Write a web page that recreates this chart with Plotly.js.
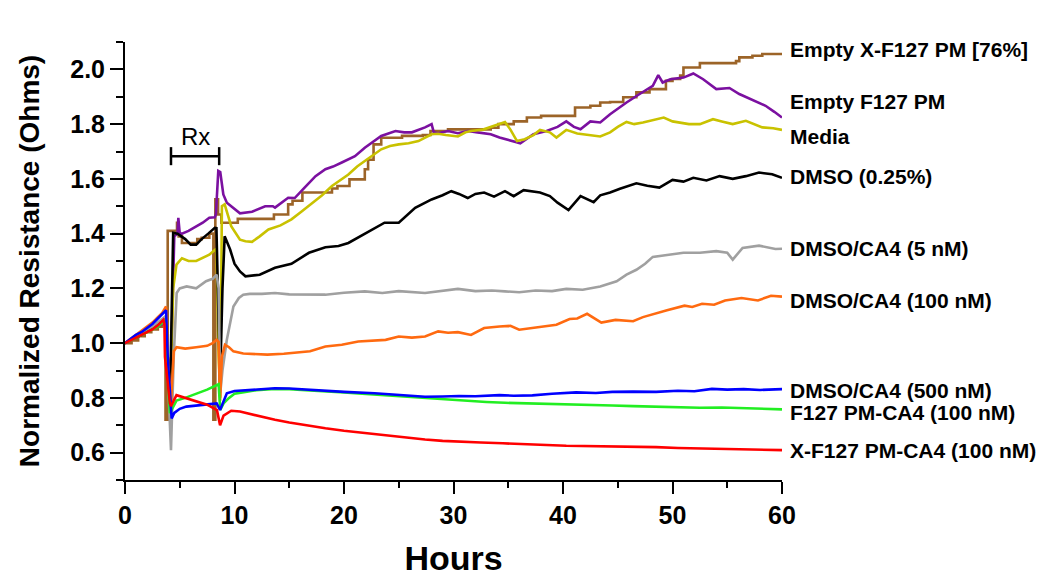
<!DOCTYPE html>
<html><head><meta charset="utf-8">
<script src="https://cdn.plot.ly/plotly-3.0.1.min.js"></script>
<style>html,body{margin:0;padding:0;background:#fff}</style>
</head><body><div id="chart" style="width:1050px;height:588px"></div>
<script>
// ---- Data (hours, normalized resistance) ----
const brownX = [0,0.6,1.2,1.8,2.4,3.0,3.4,3.7,3.9,4.75,4.9,5.2,6.6,7.0,7.7,8.07,8.25,8.5,8.8,10.3,13.6,14.9,15.3,16.2,18.9,19.4,20.5,21.9,22.2,22.7,23.4,25.3,27.2,27.9,29.5,33.4,34.1,35.5,36.7,38.0,41.1,42.5,43.4,44.3,45.5,46.7,47.9,49.4,50.0,50.7,51.0,52.5,55.8,56.1,57.3,58.2,60];
const brownY = [1.0,1.01,1.025,1.04,1.05,1.06,1.07,0.72,1.41,1.44,1.39,1.366,1.38,1.385,1.40,0.72,1.525,1.47,1.44,1.454,1.47,1.507,1.52,1.55,1.565,1.574,1.598,1.635,1.67,1.726,1.75,1.757,1.76,1.775,1.781,1.787,1.80,1.81,1.824,1.83,1.861,1.867,1.879,1.881,1.898,1.916,1.928,1.958,1.965,1.977,2.007,2.023,2.03,2.044,2.05,2.056,2.058];

const purpleX = [0,0.5,1,1.5,2,2.5,3,3.4,3.7,3.9,4.1,4.5,4.8,4.87,5.0,5.2,5.8,6.5,7.1,7.7,8.2,8.3,8.52,8.7,8.98,9.3,9.9,10.5,11.6,12.3,12.8,13.5,13.7,14.9,15.5,16.4,17.4,18.3,19.0,19.8,21.0,21.9,22.5,23.4,24.7,25.5,26.2,27.4,28.0,28.2,28.6,29.5,30.4,31.3,32.2,33.4,34.2,34.8,36.1,37.3,38.5,39.5,40.3,41.0,41.6,42.5,43.4,44.3,45.8,47.0,48.2,48.7,49.1,49.8,51.0,51.9,52.8,54.0,55.2,56.1,57.3,58.5,59.3,60];
const purpleY = [1.0,1.01,1.02,1.03,1.04,1.05,1.06,1.07,1.08,0.95,0.76,1.39,1.40,1.458,1.40,1.40,1.41,1.427,1.44,1.458,1.46,1.47,1.629,1.625,1.543,1.513,1.494,1.474,1.48,1.49,1.50,1.50,1.495,1.531,1.53,1.568,1.61,1.635,1.645,1.66,1.683,1.714,1.73,1.757,1.775,1.77,1.77,1.788,1.80,1.77,1.767,1.775,1.767,1.775,1.77,1.763,1.751,1.745,1.73,1.763,1.775,1.79,1.81,1.79,1.781,1.81,1.806,1.836,1.879,1.91,1.94,1.979,1.952,1.964,1.97,1.985,1.964,1.928,1.932,1.91,1.89,1.867,1.845,1.824];

const mediaX = [0,0.5,1,1.5,2,2.5,3,3.4,3.7,3.9,4.1,4.4,4.7,5.2,5.8,6.5,7.1,7.7,8.2,8.35,8.55,8.7,8.85,9.1,9.7,10.5,11.0,11.6,12.3,13.1,14.2,15.2,16.1,17.0,18.0,18.9,19.6,20.4,21.2,21.9,22.7,23.4,24.2,25.0,25.9,26.8,28.0,28.6,29.3,30.4,31.1,31.6,32.7,33.4,34.1,34.7,35.2,35.8,36.5,37.3,37.9,38.8,39.4,40.3,41.3,42.5,43.4,44.3,45.0,45.8,46.5,47.3,48.2,49.2,50.0,50.7,51.5,52.5,53.1,53.7,54.5,55.5,56.7,57.5,58.2,59.2,60];
const mediaY = [1.0,1.01,1.02,1.03,1.04,1.05,1.065,1.075,1.08,0.95,0.76,1.20,1.287,1.31,1.30,1.30,1.31,1.323,1.34,1.345,0.95,0.80,1.50,1.507,1.427,1.378,1.372,1.37,1.39,1.415,1.43,1.452,1.48,1.507,1.54,1.574,1.595,1.616,1.645,1.665,1.69,1.708,1.72,1.726,1.73,1.738,1.763,1.765,1.76,1.755,1.77,1.775,1.78,1.79,1.80,1.808,1.78,1.738,1.745,1.76,1.779,1.77,1.751,1.779,1.766,1.76,1.755,1.77,1.79,1.808,1.80,1.806,1.815,1.824,1.81,1.806,1.80,1.80,1.81,1.818,1.81,1.80,1.812,1.80,1.788,1.785,1.779];

const dmsoX = [0,0.5,1,1.5,2,2.5,3,3.4,3.7,3.9,4.1,4.4,4.8,5.5,6.0,6.5,7.0,7.6,8.2,8.35,8.5,8.68,8.9,9.1,9.6,10.0,10.5,11.0,12.3,13.7,15.2,16.8,18.3,19.5,20.4,21.9,22.8,23.7,25.0,26.5,28.0,29.0,29.8,30.5,31.3,32.0,32.8,33.7,34.7,35.5,36.4,37.9,38.8,39.5,40.5,41.6,42.8,43.4,44.3,45.2,46.7,47.7,48.8,50.0,51.0,51.9,53.1,54.3,55.5,56.7,57.9,59.1,60];
const dmsoY = [1.0,1.01,1.02,1.03,1.045,1.055,1.07,1.08,1.09,0.95,0.77,1.403,1.40,1.38,1.36,1.36,1.38,1.40,1.421,1.42,1.10,0.85,1.20,1.39,1.342,1.29,1.262,1.244,1.25,1.275,1.29,1.33,1.35,1.355,1.366,1.40,1.42,1.44,1.44,1.494,1.525,1.54,1.555,1.545,1.53,1.545,1.55,1.535,1.555,1.537,1.559,1.55,1.537,1.513,1.486,1.537,1.515,1.54,1.55,1.564,1.584,1.575,1.568,1.596,1.59,1.604,1.594,1.61,1.60,1.61,1.623,1.617,1.604];

const ca5X = [0,0.5,1,1.5,2,2.5,3,3.4,3.75,3.95,4.2,4.45,4.72,5.0,5.63,6.5,7.4,8.0,8.37,8.55,8.7,8.9,9.3,9.9,10.4,10.8,11.4,12.5,13.7,15,16.5,18.3,20,21.9,23.5,25,27.4,29,30.4,32,33.5,34.7,36,37.5,39,40.3,41.8,43.4,44.9,45.8,46.7,47.5,48.2,49.5,51.0,52.5,54.0,55.0,55.5,56.4,57.9,59.4,60];
const ca5Y = [1.0,1.01,1.02,1.035,1.05,1.06,1.075,1.09,1.10,0.85,0.609,0.95,1.183,1.20,1.207,1.20,1.226,1.235,1.25,1.20,0.818,0.90,1.012,1.134,1.165,1.177,1.18,1.18,1.183,1.178,1.177,1.177,1.184,1.189,1.183,1.19,1.183,1.19,1.198,1.19,1.192,1.189,1.186,1.192,1.19,1.198,1.195,1.207,1.226,1.25,1.268,1.29,1.315,1.322,1.33,1.33,1.336,1.33,1.305,1.348,1.356,1.344,1.345];

const ca100X = [0,0.5,1,1.5,2,2.5,3,3.4,3.75,3.9,4.2,4.45,4.7,5.5,6.5,7.5,8.0,8.37,8.55,8.68,8.85,9.13,9.5,9.9,10.8,11.7,13,14.5,15.8,16.9,18.3,19.8,21.3,22.5,23.8,25.0,26.2,27.4,28.6,29.5,30.4,31.6,32.8,34.2,35.2,36.0,37.5,39.4,40.6,41.3,42.2,43.5,44.8,46.4,47.3,48.3,49.5,51.1,51.8,52.7,53.8,54.8,56.3,57.8,59.0,60];
const ca100Y = [1.0,1.015,1.03,1.045,1.06,1.075,1.095,1.11,1.134,0.95,0.78,0.97,0.985,0.98,0.985,0.99,1.0,1.012,1.005,0.79,0.95,0.994,0.985,0.97,0.962,0.961,0.958,0.961,0.965,0.97,0.988,0.994,1.006,1.008,1.012,1.024,1.02,1.024,1.043,1.038,1.04,1.03,1.055,1.061,1.063,1.049,1.058,1.067,1.088,1.09,1.107,1.075,1.085,1.08,1.095,1.107,1.12,1.137,1.132,1.144,1.14,1.156,1.165,1.156,1.173,1.17];

const ca500X = [0,0.5,1,1.5,2,2.5,3,3.4,3.75,3.9,4.26,4.5,5,5.6,6.5,7.5,8.37,8.68,9.0,9.3,10,11.4,13.7,15,16.5,18.3,20,22.8,25,27.4,29,30.5,32,34.2,35.5,37.2,39,41.2,43,44.5,46.4,48.5,50.5,52,53.6,55,56.5,58,60];
const ca500Y = [1.0,1.015,1.03,1.04,1.055,1.07,1.09,1.105,1.12,0.95,0.725,0.745,0.76,0.768,0.772,0.776,0.78,0.756,0.79,0.817,0.825,0.829,0.835,0.834,0.83,0.826,0.822,0.817,0.81,0.804,0.805,0.807,0.806,0.81,0.808,0.809,0.815,0.82,0.818,0.822,0.823,0.822,0.826,0.824,0.833,0.83,0.832,0.829,0.832];

const pmX = [0,0.5,1,1.5,2,2.5,3,3.4,3.7,3.85,4.1,4.3,4.7,5.5,6.5,7.5,8.4,8.55,8.7,9.0,9.5,10,11,12,13.7,15,16.5,18.3,20,22,23.5,25,27.4,29,31,33,34.7,36.5,38.5,40.3,42.5,44.5,46.4,48.5,50.5,52.5,54.5,56.5,58.5,60];
const pmY = [1.0,1.01,1.02,1.03,1.04,1.05,1.06,1.075,1.085,0.9,0.744,0.76,0.79,0.80,0.815,0.83,0.847,0.85,0.756,0.78,0.80,0.815,0.822,0.828,0.833,0.832,0.828,0.825,0.82,0.814,0.81,0.805,0.798,0.793,0.788,0.785,0.782,0.78,0.778,0.774,0.773,0.772,0.77,0.768,0.766,0.764,0.765,0.762,0.76,0.758];

const xpmX = [0,0.5,1,1.5,2,2.5,3,3.5,3.6,3.65,4.1,4.2,4.7,5.5,6.5,7.5,8.4,8.68,9.0,9.7,10.5,11.5,12.5,13.7,15,16.5,18.3,20,21.5,22.8,24.5,26,27.4,29,30.4,32.5,34.5,36.5,38.5,40.3,42.5,44.5,46.4,48.5,50.5,52.5,54.5,56.5,58.5,60];
const xpmY = [1.0,1.01,1.02,1.03,1.04,1.05,1.065,1.085,1.07,0.95,0.78,0.77,0.81,0.80,0.79,0.775,0.755,0.70,0.735,0.753,0.75,0.74,0.73,0.72,0.71,0.70,0.689,0.68,0.673,0.668,0.66,0.653,0.648,0.643,0.64,0.637,0.634,0.632,0.628,0.625,0.624,0.622,0.621,0.62,0.617,0.615,0.614,0.612,0.609,0.609];

const seriesNames = ["Empty X-F127 PM [76%]","Empty F127 PM","Media","DMSO (0.25%)","DMSO/CA4 (5 nM)","DMSO/CA4 (100 nM)","DMSO/CA4 (500 nM)","F127 PM-CA4 (100 nM)","X-F127 PM-CA4 (100 nM)"];
const labelY = [2.072, 1.884, 1.756, 1.609, 1.345, 1.157, 0.827, 0.747, 0.607];

// Treatment bracket
const rxLabel = "Rx";
const rxStart = 4.2, rxEnd = 8.6, rxLevel = 1.683, rxLabelY = 1.754;

const FONT = 'Arial, "Liberation Sans", sans-serif';
const colors = ["#9c6428","#7b10a0","#c9c200","#000000","#a0a0a0","#ff6a10","#0000ff","#22ee22","#ff0000"];
const xs = [brownX, purpleX, mediaX, dmsoX, ca5X, ca100X, pmX, ca500X, xpmX];
const ys = [brownY, purpleY, mediaY, dmsoY, ca5Y, ca100Y, pmY, ca500Y, xpmY];
const idx = [0,1,2,3,4,5,7,6,8]; // draw order -> name index

const traces = xs.map((x, i) => ({
  x: x, y: ys[i], type: 'scatter', mode: 'lines',
  name: seriesNames[idx[i]],
  line: {color: colors[idx[i]], width: 2.6, shape: i === 0 ? 'hv' : 'linear'},
  hoverinfo: 'skip'
}));

const annotations = seriesNames.map((n, i) => ({
  xref: 'paper', yref: 'y', x: 1, y: labelY[i], xshift: 6,
  xanchor: 'left', yanchor: 'middle', text: n, showarrow: false,
  font: {family: FONT, size: 21, color: '#000', weight: 'bold'}
}));
annotations.push({
  xref: 'x', yref: 'y', x: (rxStart + rxEnd) / 2, y: rxLabelY, text: rxLabel,
  showarrow: false, xanchor: 'center', yanchor: 'middle',
  font: {family: FONT, size: 24, color: '#000'}
});

const shapes = [
  {type: 'line', xref: 'x', yref: 'y', x0: rxStart, x1: rxEnd, y0: rxLevel, y1: rxLevel, line: {color: '#000', width: 2.5}},
  {type: 'line', xref: 'x', yref: 'y', x0: rxStart, x1: rxStart, y0: rxLevel - 0.033, y1: rxLevel + 0.033, line: {color: '#000', width: 2.5}},
  {type: 'line', xref: 'x', yref: 'y', x0: rxEnd, x1: rxEnd, y0: rxLevel - 0.033, y1: rxLevel + 0.033, line: {color: '#000', width: 2.5}}
];

const layout = {
  width: 1050, height: 588,
  margin: {l: 125, r: 268, t: 42, b: 108, pad: 0},
  paper_bgcolor: '#fff', plot_bgcolor: '#fff',
  showlegend: false,
  font: {family: FONT, color: '#000'},
  xaxis: {
    range: [0, 60], tickmode: 'linear', tick0: 0, dtick: 10,
    ticks: 'outside', ticklen: 12, tickwidth: 2, tickcolor: '#000',
    minor: {dtick: 5, ticks: 'outside', ticklen: 6, tickwidth: 2, tickcolor: '#000', showgrid: false},
    showline: true, linewidth: 2, linecolor: '#000', showgrid: false, zeroline: false,
    tickfont: {family: FONT, size: 25, color: '#000', weight: 'bold'},
    title: {text: 'Hours', font: {family: FONT, size: 34, color: '#000', weight: 'bold'}, standoff: 18}
  },
  yaxis: {
    range: [0.5, 2.1], tickmode: 'linear', tick0: 0.6, dtick: 0.2, tickformat: '.1f',
    ticks: 'outside', ticklen: 13, tickwidth: 2, tickcolor: '#000',
    minor: {dtick: 0.1, tick0: 0.5, ticks: 'outside', ticklen: 7, tickwidth: 2, tickcolor: '#000', showgrid: false},
    showline: true, linewidth: 2, linecolor: '#000', showgrid: false, zeroline: false,
    tickfont: {family: FONT, size: 25, color: '#000', weight: 'bold'},
    title: {text: 'Normalized Resistance (Ohms)', font: {family: FONT, size: 28, color: '#000', weight: 'bold'}, standoff: 22}
  },
  annotations: annotations,
  shapes: shapes
};

Plotly.newPlot('chart', traces, layout, {displayModeBar: false, staticPlot: true});
</script></body></html>
